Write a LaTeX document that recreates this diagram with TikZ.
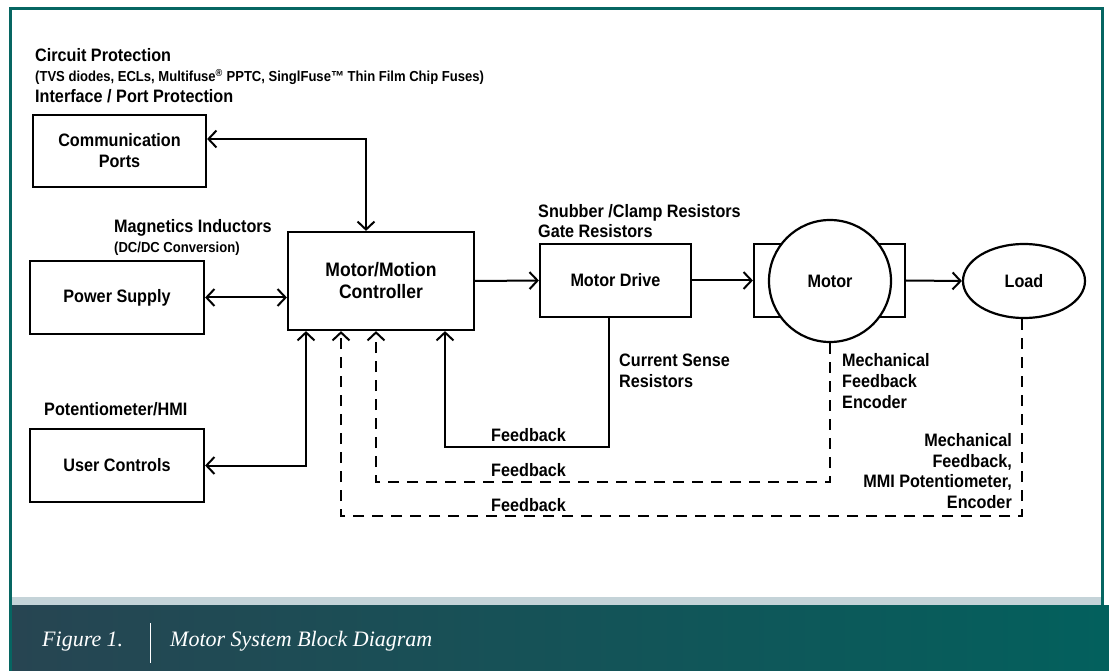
\documentclass[tikz,border=0pt]{standalone}
\usepackage{fontspec}
\setmainfont{Liberation Sans}[FakeStretch=0.9]
\newfontfamily\capfont{Liberation Serif}
\usetikzlibrary{arrows.meta,shapes.geometric}

\definecolor{frameteal}{RGB}{6,102,98}
\definecolor{stripgrey}{RGB}{196,211,216}
\definecolor{bandleft}{RGB}{39,69,82}
\definecolor{bandright}{RGB}{3,96,93}

\tikzset{
  blok/.style={draw,line width=2.2pt,minimum width=174pt,minimum height=73pt,
    align=center,font=\fontsize{18}{21}\selectfont\bfseries},
  txt/.style={inner sep=0pt,font=\fontsize{18}{21}\selectfont\bfseries},
  small/.style={inner sep=0pt,font=\fontsize{14.5}{17}\selectfont\bfseries},
  link/.style={line width=2pt,>={Straight Barb[length=8pt,width=17pt]}},
  fb/.style={link,dash pattern=on 11pt off 8pt},
  captxt/.style={inner sep=0pt,text=white,font=\capfont\itshape\fontsize{22}{24}\selectfont}
}

\begin{document}
\begin{tikzpicture}[x=1pt,y=-1pt]
          \useasboundingbox (0,0) rectangle (1109,671);
          % frame and caption band
          \fill[stripgrey] (11,597) rectangle (1102,605);
          \shade[left color=bandleft,right color=bandright] (11,605) rectangle (1109,671);
          \draw[frameteal,line width=3pt] (10.5,671) |- (1102.5,8.5) -- (1102.5,605);
          \node[captxt,anchor=base west] (fig) at (42,646) {Figure 1.};
          \draw[white,line width=0.8pt] (150,623) -- (150,663);
          \node[captxt,anchor=base west] (cap) at (170,646) {Motor System Block Diagram};
          % blocks
          \node[blok,minimum width=173pt,minimum height=72pt] (ports) at (119.5,151) {Communication\\Ports};
          \node[blok] (power) at (117,297.5) {Power Supply};
          \node[blok] (user) at (117,465.5) {User Controls};
          \node[blok,minimum width=186pt,minimum height=98pt,font=\fontsize{19.5}{22}\selectfont\bfseries] (ctrl) at (381,281) {Motor/Motion\\Controller};
          \node[blok,minimum width=151pt] (drive) at (615.5,280.5) {Motor Drive};
          \node[blok,minimum width=151pt] (mbox) at (829.5,280.5) {};
          \node[blok,circle,fill=white,minimum size=122pt] (motor) at (830,281) {Motor};
          \node[blok,ellipse,minimum width=122pt,minimum height=74pt] (load) at (1024,281) {Load};
          % links
          \draw[link,<->] ([yshift=12pt]ports.east) -| ([xshift=-15pt]ctrl.north);
          \draw[link,<->] (power.east) -- (ctrl.west |- power.east);
          \draw[link,<->] (user.east) -| ([xshift=-75pt]ctrl.south);
          \draw[link,->] (ctrl.east) -- (drive.west);
          \draw[link,->] (drive.east) -- (mbox.west);
          \draw[link,->] (mbox.east) -- (load.west);
          % feedback
          \draw[link,->] ([xshift=-6.5pt]drive.south) -- ++(0,129) -| ([xshift=64pt]ctrl.south);
          \draw[fb,->] (motor.south) -- ++(0,139) -| ([xshift=-5pt]ctrl.south);
          \draw[fb,->] ([xshift=-2pt]load.south) -- ++(0,197) -| ([xshift=-40pt]ctrl.south);
          \node[txt,anchor=base west] (fb1) at (491,441) {Feedback};
          \node[txt,anchor=base west] (fb2) at (491,476) {Feedback};
          \node[txt,anchor=base west] (fb3) at (491,511) {Feedback};
          % labels
          \node[txt,anchor=base west] (cp) at (35,62) {Circuit Protection};
          \node[small,anchor=base west] (cpl) at (35,82) {(TVS diodes, ECLs, Multifuse\textsuperscript{®} PPTC, SinglFuse™ Thin Film Chip Fuses)};
          \node[txt,anchor=base west] (ipp) at (35,103) {Interface / Port Protection};
          \node[txt,anchor=base west] (mi) at (114,233) {Magnetics Inductors};
          \node[small,anchor=base west] (dc) at (114,253) {(DC/DC Conversion)};
          \node[txt,anchor=base west] (hmi) at (44,415) {Potentiometer/HMI};
          \node[txt,anchor=base west] (snub) at (538,218) {Snubber /Clamp Resistors};
          \node[txt,anchor=base west] (gate) at (538,238) {Gate Resistors};
          \node[txt,anchor=base west,align=left] (cs) at (619,387) {Current Sense\\Resistors};
          \node[txt,anchor=base west,align=left] (mfe) at (842,408) {Mechanical\\Feedback\\Encoder};
          \node[txt,anchor=base east,align=right,font=\fontsize{18}{20.5}\selectfont\bfseries] (mfm) at (1012,508) {Mechanical\\Feedback,\\MMI Potentiometer,\\Encoder};
        \end{tikzpicture}
\end{document}
